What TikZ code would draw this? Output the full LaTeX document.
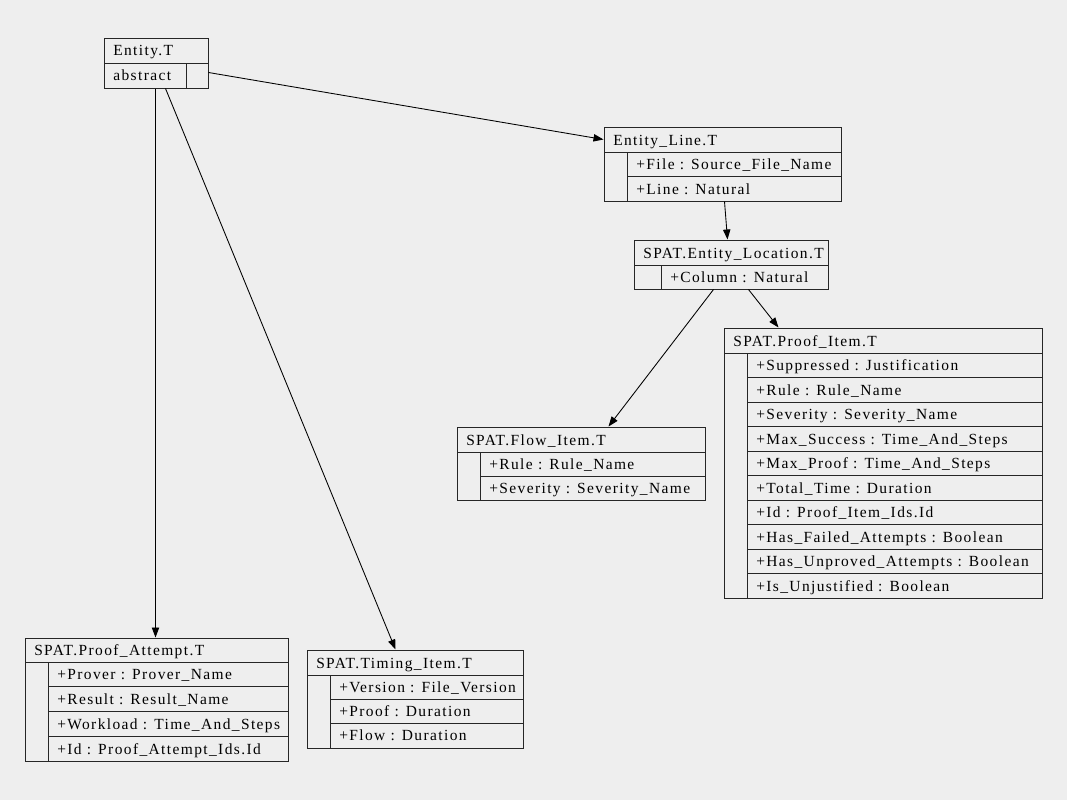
\documentclass[tikz,border=0pt]{standalone}
\usepackage{fontspec}
\setmainfont{Liberation Serif}[LetterSpace=9]
\usetikzlibrary{arrows.meta,calc,fit}
\definecolor{bg}{HTML}{EEEEEE}
\tikzset{
  boxframe/.style={draw=black!85, line width=0.75pt, inner sep=0pt},
  cellline/.style={draw=black!85, line width=0.75pt},
  txt/.style={anchor=base west, inner sep=0pt, font=\fontsize{11.6pt}{13pt}\selectfont},
  arr/.style={draw=black, line width=0.65pt, -{Triangle[length=7.5pt,width=5.5pt]}}
}
\begin{document}
\begin{tikzpicture}[x=0.75pt,y=-0.75pt]
\fill[bg] (0,0) rectangle (1067,800);
\useasboundingbox (0,0) rectangle (1067,800);

% Entity.T
\node[boxframe, fit={(104,38)(208,88)}] (ent) {};
\draw[cellline] (104,63) -- (208,63) (186,63) -- (186,88);
\node[txt] (entT) at (113,55.5) {Entity.T};
\node[txt] (entA) at (113,80.5) {abstract};

% Entity_Line.T
\node[boxframe, fit={(604,127)(841,201)}] (eline) {};
\draw[cellline] (604,152) -- (841,152) (627,176) -- (841,176) (627,152) -- (627,201);
\node[txt] (elT) at (613,145) {Entity\_Line.T};
\node[txt] (el1) at (636,169.5) {+File : Source\_File\_Name};
\node[txt] (el2) at (636,194) {+Line : Natural};

% SPAT.Entity_Location.T
\node[boxframe, fit={(634,240)(828,289)}] (loc) {};
\draw[cellline] (634,265) -- (828,265) (661,265) -- (661,289);
\node[txt] (locT) at (643,258) {SPAT.Entity\_Location.T};
\node[txt] (loc1) at (670,282.5) {+Column : Natural};

% SPAT.Proof_Item.T
\node[boxframe, fit={(724,328)(1042,598)}] (pitem) {};
\draw[cellline] (724,353) -- (1042,353) (747,353) -- (747,598);
\foreach \k in {1,...,9} {\draw[cellline] (747,353+24.5*\k) -- (1042,353+24.5*\k);}
\node[txt] (piT) at (733,346) {SPAT.Proof\_Item.T};
\node[txt] (pi1) at (756,370.75) {+Suppressed : Justification};
\node[txt] (pi2) at (756,395.25) {+Rule : Rule\_Name};
\node[txt] (pi3) at (756,419.75) {+Severity : Severity\_Name};
\node[txt] (pi4) at (756,444.25) {+Max\_Success : Time\_And\_Steps};
\node[txt] (pi5) at (756,468.75) {+Max\_Proof : Time\_And\_Steps};
\node[txt] (pi6) at (756,493.25) {+Total\_Time : Duration};
\node[txt] (pi7) at (756,517.75) {+Id : Proof\_Item\_Ids.Id};
\node[txt] (pi8) at (756,542.25) {+Has\_Failed\_Attempts : Boolean};
\node[txt] (pi9) at (756,566.75) {+Has\_Unproved\_Attempts : Boolean};
\node[txt] (pi10) at (756,591.25) {+Is\_Unjustified : Boolean};

% SPAT.Flow_Item.T
\node[boxframe, fit={(457,427)(705,500)}] (flow) {};
\draw[cellline] (457,452) -- (705,452) (480,476) -- (705,476) (480,452) -- (480,500);
\node[txt] (flT) at (466,445) {SPAT.Flow\_Item.T};
\node[txt] (fl1) at (489,469.5) {+Rule : Rule\_Name};
\node[txt] (fl2) at (489,493.5) {+Severity : Severity\_Name};

% SPAT.Proof_Attempt.T
\node[boxframe, fit={(25,638)(288,761)}] (att) {};
\draw[cellline] (25,662) -- (288,662) (48,662) -- (48,761);
\foreach \k in {1,2,3} {\draw[cellline] (48,662+24.75*\k) -- (288,662+24.75*\k);}
\node[txt] (atT) at (34,655.5) {SPAT.Proof\_Attempt.T};
\node[txt] (at1) at (57,679.9) {+Prover : Prover\_Name};
\node[txt] (at2) at (57,704.6) {+Result : Result\_Name};
\node[txt] (at3) at (57,729.4) {+Workload : Time\_And\_Steps};
\node[txt] (at4) at (57,754.1) {+Id : Proof\_Attempt\_Ids.Id};

% SPAT.Timing_Item.T
\node[boxframe, fit={(307,650)(523,748)}] (tim) {};
\draw[cellline] (307,675) -- (523,675) (330,699) -- (523,699) (330,723) -- (523,723) (330,675) -- (330,748);
\node[txt] (tiT) at (316,668) {SPAT.Timing\_Item.T};
\node[txt] (ti1) at (339,692) {+Version : File\_Version};
\node[txt] (ti2) at (339,716.5) {+Proof : Duration};
\node[txt] (ti3) at (339,740.5) {+Flow : Duration};

% edges
\draw[arr] ($(ent.north east)+(0,35)$) -- ($(eline.north west)+(0,13)$);
\draw[arr] ($(ent.south west)+(52,0)$) -- ($(att.north west)+(131,0)$);
\draw[arr] ($(ent.south west)+(62,0)$) -- ($(tim.north west)+(89,0)$);
\draw[arr] ($(eline.south west)+(121,0)$) -- ($(loc.north west)+(94,0)$);
\draw[arr] ($(loc.south west)+(80,0)$) -- ($(flow.north west)+(152,0)$);
\draw[arr] ($(loc.south west)+(115,0)$) -- ($(pitem.north west)+(55,0)$);
\end{tikzpicture}
\end{document}
